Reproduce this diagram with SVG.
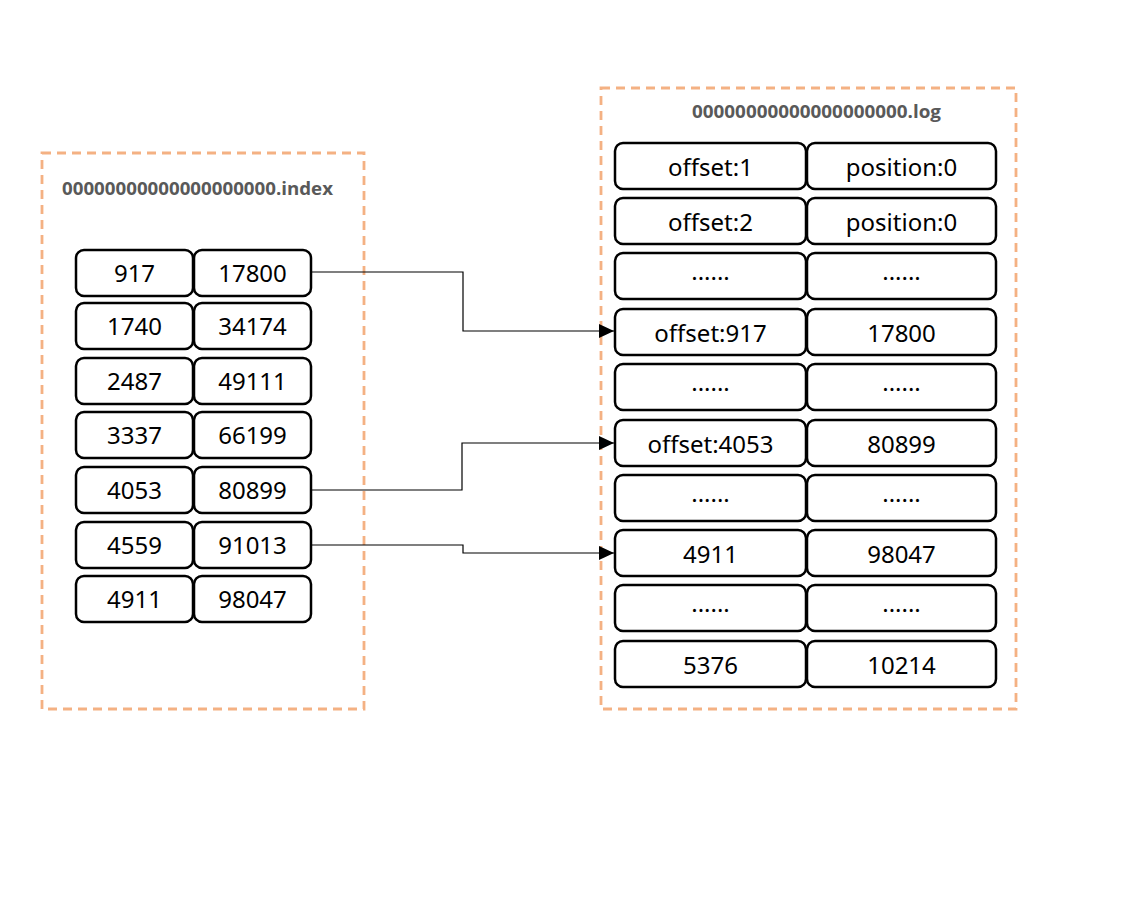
<svg xmlns="http://www.w3.org/2000/svg" width="1140" height="906" viewBox="0 0 1140 906">
  <style>
    .frame { fill: none; stroke: #F4B183; stroke-width: 2.8; stroke-dasharray: 9 6; }
    .title { font-family: "Open Sans", "Liberation Sans", sans-serif; font-weight: bold; font-size: 18px; fill: #595959; }
    .cell { fill: #FFFFFF; stroke: #000000; stroke-width: 2.5; }
    .txt { font-family: "Noto Sans", "Open Sans", "Liberation Sans", sans-serif; font-size: 24px; fill: #000000; text-anchor: middle; }
    .wire { fill: none; stroke: #000000; stroke-width: 1.2; }
  </style>
  <defs>
    <marker id="arrow" markerWidth="15" markerHeight="14" refX="15" refY="7" orient="auto" markerUnits="userSpaceOnUse">
      <path d="M0,0 L15,7 L0,14 Z" fill="#000000"/>
    </marker>
  </defs>
  <rect width="1140" height="906" fill="#FFFFFF"/>

  <!-- index file -->
  <g id="index-file">
    <rect class="frame" x="42" y="153" width="322" height="556"/>
    <text class="title" x="62" y="195" textLength="271" lengthAdjust="spacingAndGlyphs">00000000000000000000.index</text>
  </g>

  <g id="index-917">
    <rect class="cell" x="76" y="250" width="117" height="46" rx="8"/>
    <rect class="cell" x="194" y="250" width="117" height="46" rx="8"/>
    <text class="txt" x="134.5" y="282">917</text>
    <text class="txt" x="252.5" y="282">17800</text>
  </g>
  <g id="index-1740">
    <rect class="cell" x="76" y="303" width="117" height="46" rx="8"/>
    <rect class="cell" x="194" y="303" width="117" height="46" rx="8"/>
    <text class="txt" x="134.5" y="335">1740</text>
    <text class="txt" x="252.5" y="335">34174</text>
  </g>
  <g id="index-2487">
    <rect class="cell" x="76" y="358" width="117" height="46" rx="8"/>
    <rect class="cell" x="194" y="358" width="117" height="46" rx="8"/>
    <text class="txt" x="134.5" y="390">2487</text>
    <text class="txt" x="252.5" y="390">49111</text>
  </g>
  <g id="index-3337">
    <rect class="cell" x="76" y="412" width="117" height="46" rx="8"/>
    <rect class="cell" x="194" y="412" width="117" height="46" rx="8"/>
    <text class="txt" x="134.5" y="444">3337</text>
    <text class="txt" x="252.5" y="444">66199</text>
  </g>
  <g id="index-4053">
    <rect class="cell" x="76" y="467" width="117" height="46" rx="8"/>
    <rect class="cell" x="194" y="467" width="117" height="46" rx="8"/>
    <text class="txt" x="134.5" y="499">4053</text>
    <text class="txt" x="252.5" y="499">80899</text>
  </g>
  <g id="index-4559">
    <rect class="cell" x="76" y="522" width="117" height="46" rx="8"/>
    <rect class="cell" x="194" y="522" width="117" height="46" rx="8"/>
    <text class="txt" x="134.5" y="554">4559</text>
    <text class="txt" x="252.5" y="554">91013</text>
  </g>
  <g id="index-4911">
    <rect class="cell" x="76" y="576" width="117" height="46" rx="8"/>
    <rect class="cell" x="194" y="576" width="117" height="46" rx="8"/>
    <text class="txt" x="134.5" y="608">4911</text>
    <text class="txt" x="252.5" y="608">98047</text>
  </g>

  <!-- log file -->
  <g id="log-file">
    <rect class="frame" x="601" y="88" width="415" height="621"/>
    <text class="title" x="692" y="118" textLength="249" lengthAdjust="spacingAndGlyphs">00000000000000000000.log</text>
  </g>

  <g id="log-1">
    <rect class="cell" x="615" y="143" width="191" height="46" rx="8"/>
    <rect class="cell" x="807" y="143" width="189" height="46" rx="8"/>
    <text class="txt" x="710.5" y="176">offset:1</text>
    <text class="txt" x="901.5" y="176">position:0</text>
  </g>
  <g id="log-2">
    <rect class="cell" x="615" y="198" width="191" height="46" rx="8"/>
    <rect class="cell" x="807" y="198" width="189" height="46" rx="8"/>
    <text class="txt" x="710.5" y="231">offset:2</text>
    <text class="txt" x="901.5" y="231">position:0</text>
  </g>
  <g id="log-gap-1">
    <rect class="cell" x="615" y="253" width="191" height="46" rx="8"/>
    <rect class="cell" x="807" y="253" width="189" height="46" rx="8"/>
    <text class="txt" x="710.5" y="280">......</text>
    <text class="txt" x="901.5" y="280">......</text>
  </g>
  <g id="log-917">
    <rect class="cell" x="615" y="309" width="191" height="46" rx="8"/>
    <rect class="cell" x="807" y="309" width="189" height="46" rx="8"/>
    <text class="txt" x="710.5" y="342">offset:917</text>
    <text class="txt" x="901.5" y="342">17800</text>
  </g>
  <g id="log-gap-2">
    <rect class="cell" x="615" y="364" width="191" height="46" rx="8"/>
    <rect class="cell" x="807" y="364" width="189" height="46" rx="8"/>
    <text class="txt" x="710.5" y="391">......</text>
    <text class="txt" x="901.5" y="391">......</text>
  </g>
  <g id="log-4053">
    <rect class="cell" x="615" y="420" width="191" height="46" rx="8"/>
    <rect class="cell" x="807" y="420" width="189" height="46" rx="8"/>
    <text class="txt" x="710.5" y="453">offset:4053</text>
    <text class="txt" x="901.5" y="453">80899</text>
  </g>
  <g id="log-gap-3">
    <rect class="cell" x="615" y="475" width="191" height="46" rx="8"/>
    <rect class="cell" x="807" y="475" width="189" height="46" rx="8"/>
    <text class="txt" x="710.5" y="502">......</text>
    <text class="txt" x="901.5" y="502">......</text>
  </g>
  <g id="log-4911">
    <rect class="cell" x="615" y="530" width="191" height="46" rx="8"/>
    <rect class="cell" x="807" y="530" width="189" height="46" rx="8"/>
    <text class="txt" x="710.5" y="563">4911</text>
    <text class="txt" x="901.5" y="563">98047</text>
  </g>
  <g id="log-gap-4">
    <rect class="cell" x="615" y="585" width="191" height="46" rx="8"/>
    <rect class="cell" x="807" y="585" width="189" height="46" rx="8"/>
    <text class="txt" x="710.5" y="612">......</text>
    <text class="txt" x="901.5" y="612">......</text>
  </g>
  <g id="log-5376">
    <rect class="cell" x="615" y="641" width="191" height="46" rx="8"/>
    <rect class="cell" x="807" y="641" width="189" height="46" rx="8"/>
    <text class="txt" x="710.5" y="674">5376</text>
    <text class="txt" x="901.5" y="674">10214</text>
  </g>

  <!-- connectors: index entry to log entry -->
  <g id="connectors">
    <polyline class="wire" points="312,272 463,272 463,331 614,331" marker-end="url(#arrow)"/>
    <polyline class="wire" points="312,490 462,490 462,443 614,443" marker-end="url(#arrow)"/>
    <polyline class="wire" points="312,545 463,545 463,553 614,553" marker-end="url(#arrow)"/>
  </g>
</svg>
